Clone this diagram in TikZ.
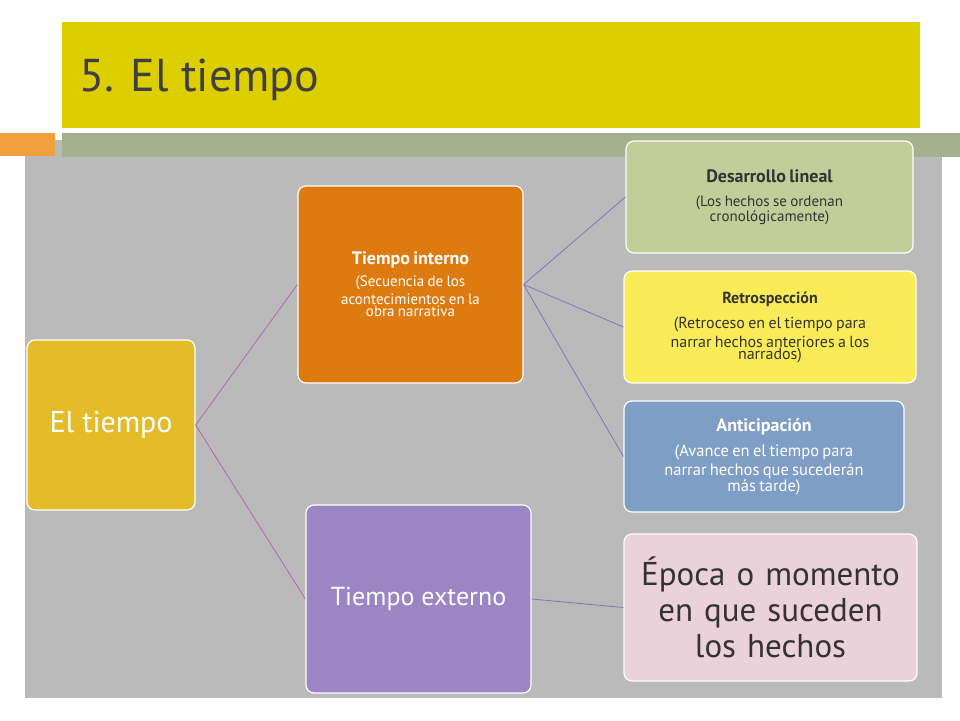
\documentclass[tikz,border=0pt]{standalone}
\usepackage{fontspec}
\setmainfont{PT Sans}
\begin{document}
\begin{tikzpicture}[x=1pt,y=-1pt,
  box/.style={rounded corners=8pt,draw=white,line width=1.2pt,align=center,inner sep=4pt},
  lnk/.style={line width=0.8pt}]
\useasboundingbox (0,0) rectangle (960,720);
\fill[white] (0,0) rectangle (960,720);
\fill[black!27] (25,140) rectangle (942,698);
\fill[fill={rgb,255:red,240;green,160;blue,60}] (0,133) rectangle (55,156);
\fill[fill={rgb,255:red,163;green,178;blue,140}] (62,133) rectangle (960,157);
\fill[fill={rgb,255:red,221;green,206;blue,0}] (62,22) rectangle (920,128);
\node[anchor=west,font=\fontsize{46}{52}\selectfont,text=black!75] (title) at (76,80) {5. El tiempo};
\node[box,fill={rgb,255:red,228;green,188;blue,42},text=white,minimum width=168pt,minimum height=170pt,font=\fontsize{30}{34}\selectfont] (a) at (111,425) {El tiempo};
\node[box,fill={rgb,255:red,222;green,123;blue,16},text=white,minimum width=225pt,minimum height=197pt,text width=215pt] (b) at (410.5,284.5) {{\fontsize{18}{22}\selectfont\bfseries Tiempo interno}\\[4pt]\fontsize{15}{18}\selectfont (Secuencia de los\\ acontecimientos en la\\ obra narrativa};
\node[box,fill={rgb,255:red,157;green,132;blue,194},text=white,minimum width=225pt,minimum height=188pt,font=\fontsize{26}{30}\selectfont] (c) at (418.5,599) {Tiempo externo};
\node[box,fill={rgb,255:red,194;green,206;blue,154},text=black!80,minimum width=287pt,minimum height=112pt,text width=278pt] (d) at (769.5,197) {{\fontsize{18}{22}\selectfont\bfseries Desarrollo lineal}\\[6pt]\fontsize{15}{18}\selectfont (Los hechos se ordenan\\ cronológicamente)};
\node[box,fill={rgb,255:red,250;green,236;blue,88},text=black!80,minimum width=292pt,minimum height=112pt,text width=284pt] (e) at (770,327) {{\fontsize{16}{20}\selectfont\bfseries Retrospección}\\[6pt]\fontsize{16}{19}\selectfont (Retroceso en el tiempo para\\ narrar hechos anteriores a los\\ narrados)};
\node[box,fill={rgb,255:red,127;green,158;blue,198},text=white,minimum width=280pt,minimum height=111pt,text width=272pt] (f) at (764,456.5) {{\fontsize{18}{22}\selectfont\bfseries Anticipación}\\[6pt]\fontsize{16.5}{19}\selectfont (Avance en el tiempo para\\ narrar hechos que sucederán\\ más tarde)};
\node[box,fill={rgb,255:red,234;green,209;blue,218},text=black!80,minimum width=291pt,minimum height=147pt,text width=285pt,font=\fontsize{33}{36}\selectfont] (g) at (770.5,607.5) {Época o momento\\ en que suceden\\ los hechos};
\draw[lnk,violet!60] (a.east) -- (b.west);
\draw[lnk,violet!60] (a.east) -- (c.west);
\draw[lnk,blue!30!gray!80] (b.east) -- (d.west);
\draw[lnk,blue!30!gray!80] (b.east) -- (e.west);
\draw[lnk,blue!30!gray!80] (b.east) -- (f.west);
\draw[lnk,blue!30!gray!80] (c.east) -- (g.west);
\end{tikzpicture}
\end{document}
